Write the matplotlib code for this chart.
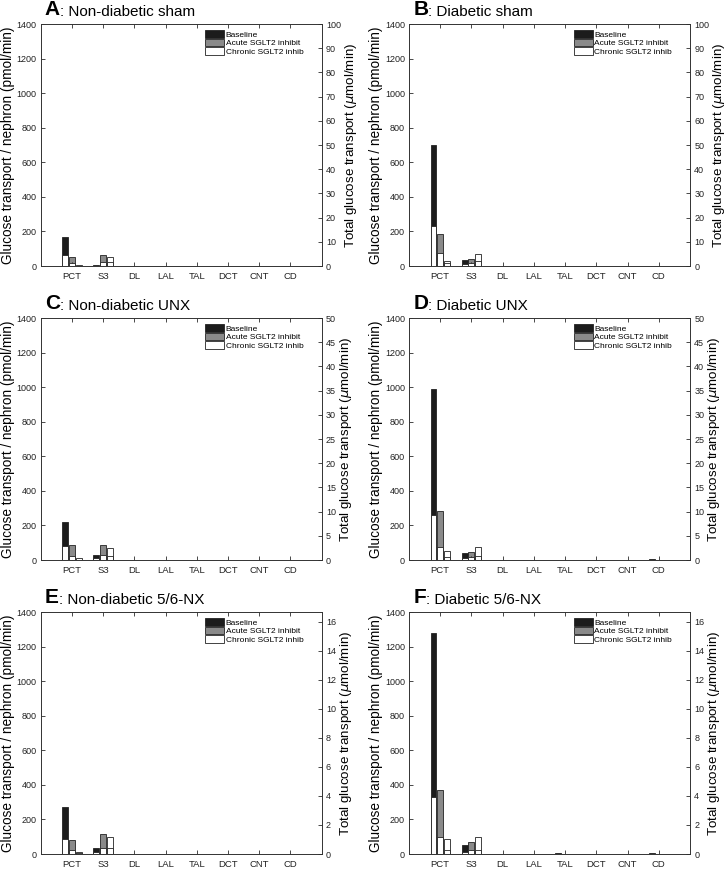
import matplotlib
matplotlib.use("Agg")
import matplotlib.pyplot as plt
import numpy as np

plt.rcParams['font.family'] = ['Liberation Sans', 'DejaVu Sans']

segments = ["PCT", "S3", "DL", "LAL", "TAL", "DCT", "CNT", "CD"]
series = ["Baseline", "Acute SGLT2 inhibit", "Chronic SGLT2 inhib"]
colors = ["#1c1c1c", "#8a8a8a", "#ffffff"]

letters = ["A", "B", "C", "D", "E", "F"]
titles = ["Non-diabetic sham", "Diabetic sham", "Non-diabetic UNX",
          "Diabetic UNX", "Non-diabetic 5/6-NX", "Diabetic 5/6-NX"]

# per-nephron transport (pmol/min), left axis
base_A = [168, 6, 0, 0, 0, 0, 0, 0]
acute_A = [50, 62, 0, 0, 0, 0, 0, 0]
chron_A = [8, 53, 0, 0, 0, 0, 0, 0]
base_B = [702, 35, 0, 0, 1, 0, 1, 2]
acute_B = [185, 40, 0, 0, 1, 0, 0, 1]
chron_B = [27, 70, 0, 0, 0, 0, 0, 1]
base_C = [220, 30, 0, 0, 0, 0, 0, 0]
acute_C = [85, 87, 0, 0, 0, 0, 0, 0]
chron_C = [10, 72, 0, 0, 0, 0, 0, 0]
base_D = [990, 38, 0, 0, 1, 0, 1, 3]
acute_D = [282, 45, 0, 0, 1, 0, 0, 1]
chron_D = [50, 75, 0, 0, 0, 0, 0, 1]
base_E = [270, 37, 0, 0, 0, 0, 0, 0]
acute_E = [83, 116, 0, 0, 0, 0, 0, 0]
chron_E = [14, 97, 0, 0, 0, 0, 0, 0]
base_F = [1280, 54, 0, 0, 3, 1, 2, 4]
acute_F = [373, 68, 0, 0, 1, 0, 1, 2]
chron_F = [87, 97, 0, 0, 0, 0, 0, 1]

# total transport (umol/min), right axis
tot_base_A = [4.6, 0.15, 0, 0, 0, 0, 0, 0]
tot_acute_A = [1.35, 1.8, 0, 0, 0, 0, 0, 0]
tot_chron_A = [0.15, 1.65, 0, 0, 0, 0, 0, 0]
tot_base_B = [16.6, 1.0, 0, 0, 0, 0, 0, 0]
tot_acute_B = [5.4, 1.2, 0, 0, 0, 0, 0, 0]
tot_chron_B = [1.1, 2.2, 0, 0, 0, 0, 0, 0]
tot_base_C = [2.85, 0.35, 0, 0, 0, 0, 0, 0]
tot_acute_C = [0.9, 1.05, 0, 0, 0, 0, 0, 0]
tot_chron_C = [0.1, 0.9, 0, 0, 0, 0, 0, 0]
tot_base_D = [9.35, 0.43, 0, 0, 0, 0, 0, 0]
tot_acute_D = [2.7, 0.55, 0, 0, 0, 0, 0, 0]
tot_chron_D = [0.55, 0.9, 0, 0, 0, 0, 0, 0]
tot_base_E = [1.0, 0.17, 0, 0, 0, 0, 0, 0]
tot_acute_E = [0.27, 0.42, 0, 0, 0, 0, 0, 0]
tot_chron_E = [0.1, 0.39, 0, 0, 0, 0, 0, 0]
tot_base_F = [3.95, 0.15, 0, 0, 0, 0, 0, 0]
tot_acute_F = [1.15, 0.3, 0, 0, 0, 0, 0, 0]
tot_chron_F = [0.3, 0.27, 0, 0, 0, 0, 0, 0]

left_ticks = [0, 200, 400, 600, 800, 1000, 1200, 1400]
right_max = [100, 100, 50, 50, 100 / 6, 100 / 6]
right_ticks = [list(range(0, 101, 10))] * 2 + [list(range(0, 51, 5))] * 2 + [list(range(0, 17, 2))] * 2

per_nephron = [(base_A, acute_A, chron_A), (base_B, acute_B, chron_B),
               (base_C, acute_C, chron_C), (base_D, acute_D, chron_D),
               (base_E, acute_E, chron_E), (base_F, acute_F, chron_F)]
totals = [(tot_base_A, tot_acute_A, tot_chron_A), (tot_base_B, tot_acute_B, tot_chron_B),
          (tot_base_C, tot_acute_C, tot_chron_C), (tot_base_D, tot_acute_D, tot_chron_D),
          (tot_base_E, tot_acute_E, tot_chron_E), (tot_base_F, tot_acute_F, tot_chron_F)]

fig = plt.figure(figsize=(7.27, 8.71), dpi=100)

W, H = 727, 871
col_x = [40.7, 409]
row_bottom = [266, 560, 854]
ax_w, ax_h = 281, 242

x = np.arange(1, len(segments) + 1)
offsets = [-0.215, 0, 0.215]
bw = 0.19
edge = "#222222"

for i in range(6):
    r, c = i // 2, i % 2
    ax = fig.add_axes([col_x[c] / W, 1 - row_bottom[r] / H, ax_w / W, ax_h / H])
    ax2 = ax.twinx()

    handles = []
    for k in range(3):
        h = ax.bar(x + offsets[k], per_nephron[i][k], width=bw, color=colors[k],
                   edgecolor=edge, linewidth=0.6)
        handles.append(h)
        ax2.bar(x + offsets[k], totals[i][k], width=bw, color="white",
                edgecolor=edge, linewidth=0.6)

    ax.set_xlim(0, 9)
    ax.set_ylim(0, 1400)
    ax2.set_ylim(0, right_max[i])
    ax.set_xticks(x)
    ax.set_xticklabels(segments)
    ax.set_yticks(left_ticks)
    ax2.set_yticks(right_ticks[i])

    ax.tick_params(axis='x', direction='in', top=True, length=3, width=0.5,
                   labelsize=6.8, pad=4, labelcolor="#222222")
    ax.tick_params(axis='y', direction='in', length=3, width=0.5, labelsize=6.5,
                   pad=3, labelcolor="#222222")
    ax2.tick_params(axis='y', direction='in', length=3, width=0.5, labelsize=6.5,
                    pad=3, labelcolor="#222222")
    for a in (ax, ax2):
        for s in a.spines.values():
            s.set_linewidth(0.6)
            s.set_color("#333333")

    ax.set_ylabel("Glucose transport / nephron (pmol/min)", fontsize=9.8, labelpad=1)
    ax2.set_ylabel("Total glucose transport ($\\mu$mol/min)", fontsize=9.6, labelpad=1.5)

    ax2.legend(handles, series, loc='upper right', bbox_to_anchor=(0.935, 0.975),
               frameon=False, fontsize=6, handlelength=2.3, handleheight=1.05,
               labelspacing=0.0, handletextpad=0.15, borderaxespad=0.0,
               borderpad=0.0)

    t = ax.text(0.015, 1.02, letters[i], transform=ax.transAxes, fontsize=15,
                fontweight='bold', va='bottom', ha='left')
    ax.annotate(": " + titles[i], xy=(1, 0), xycoords=t, fontsize=11,
                va='bottom', ha='left')

fig.savefig("out.png", dpi=100)
